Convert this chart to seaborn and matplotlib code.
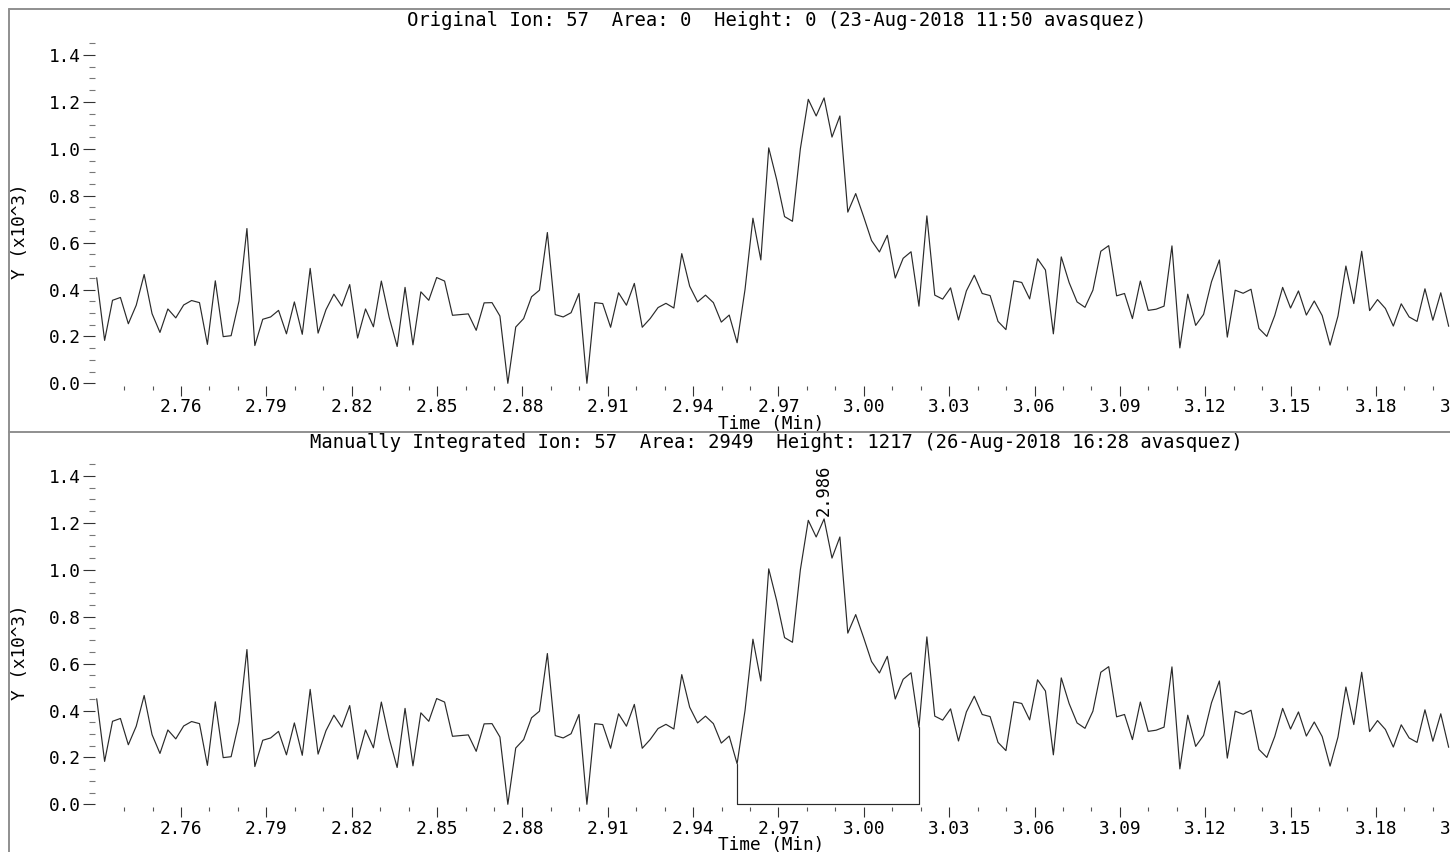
import numpy as np
import pandas as pd
import matplotlib
matplotlib.use("Agg")
import matplotlib.pyplot as plt
from matplotlib.lines import Line2D
from matplotlib.ticker import FixedLocator, FormatStrFormatter
import seaborn as sns

# ---------------- data ----------------
scan_start = 2.73037      # min, first scan
scan_interval = 0.002779  # min between scans

intensity = [  # Y (x10^3)
    0.450, 0.183, 0.354, 0.366, 0.254, 0.333, 0.464, 0.297, 0.217, 0.317,
    0.279, 0.334, 0.353, 0.344, 0.166, 0.437, 0.199, 0.203, 0.351, 0.660,
    0.161, 0.273, 0.283, 0.311, 0.211, 0.347, 0.209, 0.490, 0.214, 0.314,
    0.380, 0.329, 0.421, 0.193, 0.317, 0.241, 0.436, 0.280, 0.157, 0.409,
    0.164, 0.390, 0.354, 0.451, 0.436, 0.290, 0.293, 0.296, 0.226, 0.343,
    0.344, 0.287, 0.000, 0.240, 0.276, 0.369, 0.397, 0.643, 0.293, 0.283,
    0.301, 0.383, 0.000, 0.344, 0.340, 0.239, 0.386, 0.333, 0.426, 0.239,
    0.276, 0.323, 0.341, 0.321, 0.553, 0.414, 0.347, 0.376, 0.344, 0.261,
    0.291, 0.173, 0.400, 0.704, 0.526, 1.004, 0.869, 0.711, 0.691, 1.000,
    1.211, 1.140, 1.217, 1.050, 1.140, 0.730, 0.809, 0.711, 0.609, 0.560,
    0.631, 0.449, 0.533, 0.561, 0.329, 0.714, 0.376, 0.359, 0.407, 0.270,
    0.394, 0.461, 0.383, 0.374, 0.264, 0.229, 0.437, 0.430, 0.360, 0.531,
    0.483, 0.211, 0.539, 0.429, 0.347, 0.324, 0.397, 0.563, 0.587, 0.373,
    0.383, 0.276, 0.436, 0.311, 0.316, 0.329, 0.586, 0.151, 0.380, 0.247,
    0.294, 0.433, 0.526, 0.197, 0.397, 0.384, 0.401, 0.234, 0.200, 0.289,
    0.409, 0.321, 0.394, 0.291, 0.351, 0.289, 0.163, 0.287, 0.500, 0.340,
    0.563, 0.310, 0.357, 0.319, 0.244, 0.339, 0.283, 0.264, 0.403, 0.269,
    0.386, 0.243,
]

integ_start_scan = 81   # 0-based scan index where manual integration starts
integ_end_scan = 104    # 0-based scan index where manual integration ends
peak_label = "2.986"

titles = [
    "Original Ion: 57  Area: 0  Height: 0 (23-Aug-2018 11:50 avasquez)",
    "Manually Integrated Ion: 57  Area: 2949  Height: 1217 (26-Aug-2018 16:28 avasquez)",
]
x_label = "Time (Min)"
y_label = "Y (x10^3)"
x_major_ticks = [2.76, 2.79, 2.82, 2.85, 2.88, 2.91, 2.94, 2.97, 3.00, 3.03,
                 3.06, 3.09, 3.12, 3.15, 3.18, 3.21]
y_major_ticks = [0.0, 0.2, 0.4, 0.6, 0.8, 1.0, 1.2, 1.4]

times = scan_start + scan_interval * np.arange(len(intensity))
df = pd.DataFrame({"time": times, "y": intensity})

# ---------------- style ----------------
sns.set_style("white")
plt.rcParams["font.family"] = ["DejaVu Sans Mono", "DejaVu Sans"]
W, H = 1450, 852
fig = plt.figure(figsize=(W / 100, H / 100), dpi=100)

def fx(px):
    return px / W

def fy(py):
    return 1 - py / H

XMIN, XMAX = 2.72977, 3.21659
YMIN, YMAX = -0.01151, 1.4640
TXT = 12.8

x_minor = [round(v, 2) for v in np.arange(2.74, 3.215, 0.01)
           if all(abs(v - m) > 1e-6 for m in x_major_ticks)]
y_minor = [round(v, 2) for v in np.arange(0.05, 1.46, 0.05)
           if all(abs(v - m) > 1e-6 for m in y_major_ticks)]

panel_tops = [40, 461]       # px
panel_bottoms = [386, 807]   # px
title_y = [21, 442]
xlabel_y = [424, 845]
ylabel_y = [231, 652]

for i in range(2):
    top, bot = panel_tops[i], panel_bottoms[i]
    ax = fig.add_axes([fx(95), fy(bot), fx(1480) - fx(95), (bot - top) / H])
    ax.patch.set_alpha(0)
    sns.lineplot(data=df, x="time", y="y", ax=ax, color="#2a2a2a",
                 linewidth=0.85, estimator=None, sort=False, clip_on=False)
    if i == 1:
        s, e = integ_start_scan, integ_end_scan
        ax.plot([times[s], times[s], times[e], times[e]],
                [intensity[s], 0, 0, intensity[e]],
                color="#2a2a2a", linewidth=0.85, clip_on=False)
        pk = int(np.argmax(intensity))
        ax.annotate(peak_label, xy=(times[pk], intensity[pk]),
                    xytext=(0, 2), textcoords="offset points",
                    rotation=90, ha="center", va="bottom",
                    fontsize=TXT - 0.5, color="black")
    ax.set_xlim(XMIN, XMAX)
    ax.set_ylim(YMIN, YMAX)
    for sp in ax.spines.values():
        sp.set_visible(False)
    ax.xaxis.set_major_locator(FixedLocator(x_major_ticks))
    ax.xaxis.set_minor_locator(FixedLocator(x_minor))
    ax.yaxis.set_major_locator(FixedLocator(y_major_ticks))
    ax.yaxis.set_minor_locator(FixedLocator(y_minor))
    ax.xaxis.set_major_formatter(FormatStrFormatter("%.2f"))
    ax.yaxis.set_major_formatter(FormatStrFormatter("%.1f"))
    ax.tick_params(axis="x", which="major", direction="out", length=7,
                   width=0.8, color="#333333", pad=2, labelsize=TXT,
                   bottom=True, labelcolor="black")
    ax.tick_params(axis="x", which="minor", direction="out", length=3,
                   width=0.8, color="#555555", bottom=True)
    ax.tick_params(axis="y", which="major", direction="out", length=9,
                   width=0.8, color="#333333", pad=1, labelsize=TXT,
                   left=True, labelcolor="black")
    ax.tick_params(axis="y", which="minor", direction="out", length=4,
                   width=0.8, color="#777777", left=True)
    ax.set_xlabel("")
    ax.set_ylabel("")
    ax.grid(False)

    fig.text(fx(776.5), fy(title_y[i]), titles[i], ha="center", va="center",
             fontsize=13.6, color="black")
    fig.text(fx(771), fy(xlabel_y[i]), x_label, ha="center", va="center",
             fontsize=TXT, color="black")
    fig.text(fx(20), fy(ylabel_y[i]), y_label, ha="center", va="center",
             rotation=90, fontsize=TXT, color="black")

# outer frame and divider
frame_kw = dict(color="#8f8f8f", linewidth=1.4, transform=fig.transFigure)
fig.add_artist(Line2D([fx(9.3), 1.0], [fy(9.3), fy(9.3)], **frame_kw))
fig.add_artist(Line2D([fx(9.3), fx(9.3)], [fy(9.3), 0.0], **frame_kw))
fig.add_artist(Line2D([fx(9.3), 1.0], [fy(431.5), fy(431.5)], **frame_kw))

fig.savefig("out.png", dpi=100, facecolor="white")
